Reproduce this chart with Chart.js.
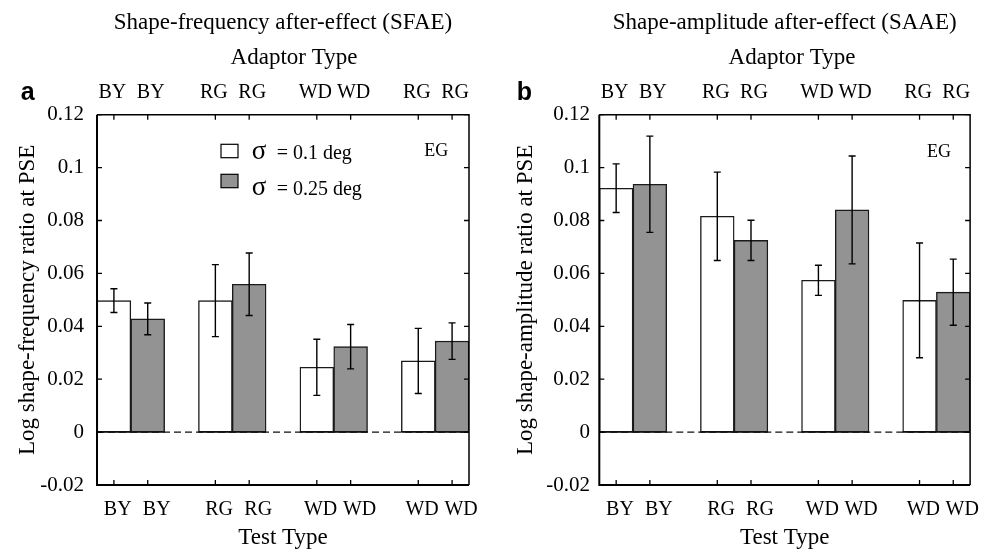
<!DOCTYPE html>
<html><head><meta charset="utf-8">
<script src="https://cdn.jsdelivr.net/npm/chart.js@4/dist/chart.umd.min.js"></script>
<style>
html,body{margin:0;padding:0;background:#fff;overflow:hidden;}
#wrap{position:relative;width:983px;height:549px;background:#fff;}
canvas{position:absolute;top:0;}
</style></head><body>
<div id="wrap">
<canvas id="ca" width="491" height="549" style="left:0"></canvas>
<canvas id="cb" width="492" height="549" style="left:491px"></canvas>
</div>
<script>
// ---- data ----
const testTypes = ['BY', 'RG', 'WD', 'WD'];
const adaptorTypes = ['BY', 'RG', 'WD', 'RG'];
const seriesNames = ['σ = 0.1 deg', 'σ = 0.25 deg'];

// Panel a: shape-frequency after-effect
const sfaeNarrow    = [0.0497, 0.0497, 0.0245, 0.0269];
const sfaeNarrowErr = [0.0045, 0.0136, 0.0106, 0.0123];
const sfaeWide      = [0.0428, 0.0559, 0.0323, 0.0344];
const sfaeWideErr   = [0.0060, 0.0118, 0.0084, 0.0069];

// Panel b: shape-amplitude after-effect
const saaeNarrow    = [0.0922, 0.0816, 0.0574, 0.0498];
const saaeNarrowErr = [0.0092, 0.0167, 0.0057, 0.0217];
const saaeWide      = [0.0937, 0.0725, 0.0840, 0.0529];
const saaeWideErr   = [0.0182, 0.0076, 0.0204, 0.0125];

const yMin = -0.02, yMax = 0.12, yStep = 0.02;

// ---- build slot arrays (pair of bars per group, empty slot between groups) ----
function slotLabels(types) {
  const out = [];
  types.forEach((t, g) => { out.push(t, t); if (g < types.length - 1) out.push(''); });
  return out;
}
function slotValues(vals, pos) {
  const out = [];
  vals.forEach((v, g) => {
    out.push(pos === 0 ? v : null, pos === 1 ? v : null);
    if (g < vals.length - 1) out.push(null);
  });
  return out;
}

const SERIF = "'Liberation Serif', 'Times New Roman', serif";
const SANS = "'Liberation Sans', Arial, sans-serif";
Chart.defaults.color = '#000';
Chart.defaults.font.family = SERIF;

const decor = {
  id: 'decor',
  beforeDatasetsDraw(chart) {
    const {ctx, chartArea: a, scales: {y}} = chart;
    const y0 = y.getPixelForValue(0);
    ctx.save();
    ctx.strokeStyle = '#111'; ctx.lineWidth = 1.3; ctx.setLineDash([7, 4]);
    ctx.beginPath(); ctx.moveTo(a.left, y0); ctx.lineTo(a.right, y0); ctx.stroke();
    ctx.restore();
  },
  afterDatasetsDraw(chart, args, o) {
    const {ctx, chartArea: a, scales: {x, y}} = chart;
    const y0 = y.getPixelForValue(0);
    ctx.save();
    // solid base line under each bar
    ctx.strokeStyle = '#111'; ctx.lineWidth = 1.5;
    ctx.beginPath();
    chart.data.datasets.forEach((ds, i) => {
      const meta = chart.getDatasetMeta(i);
      ds.data.forEach((v, j) => {
        if (v == null) return;
        const el = meta.data[j];
        ctx.moveTo(el.x - el.width / 2, y0); ctx.lineTo(el.x + el.width / 2, y0);
      });
    });
    ctx.stroke();
    // error bars
    ctx.strokeStyle = '#000'; ctx.lineWidth = 1.4;
    chart.data.datasets.forEach((ds, i) => {
      const meta = chart.getDatasetMeta(i);
      ds.data.forEach((v, j) => {
        if (v == null) return;
        const e = ds.errors[j];
        const px = meta.data[j].x;
        const yt = y.getPixelForValue(v + e), yb = y.getPixelForValue(v - e);
        ctx.beginPath();
        ctx.moveTo(px, yt); ctx.lineTo(px, yb);
        ctx.moveTo(px - 3.5, yt); ctx.lineTo(px + 3.5, yt);
        ctx.moveTo(px - 3.5, yb); ctx.lineTo(px + 3.5, yb);
        ctx.stroke();
      });
    });
    // frame
    ctx.strokeStyle = '#000';
    ctx.lineWidth = 1.5;
    ctx.beginPath();
    ctx.moveTo(a.left, a.top); ctx.lineTo(a.right, a.top); ctx.lineTo(a.right, a.bottom);
    ctx.stroke();
    ctx.lineWidth = 2;
    ctx.beginPath();
    ctx.moveTo(a.left, a.top); ctx.lineTo(a.left, a.bottom); ctx.lineTo(a.right, a.bottom);
    ctx.stroke();
    // inward ticks
    ctx.lineWidth = 1.3;
    const tl = 5;
    ctx.beginPath();
    y.ticks.forEach(t => {
      const py = y.getPixelForValue(t.value);
      ctx.moveTo(a.left, py); ctx.lineTo(a.left + tl, py);
      ctx.moveTo(a.right, py); ctx.lineTo(a.right - tl, py);
    });
    chart.data.labels.forEach((l, j) => {
      if (!l) return;
      const px = x.getPixelForTick(j);
      ctx.moveTo(px, a.top); ctx.lineTo(px, a.top + tl);
      ctx.moveTo(px, a.bottom); ctx.lineTo(px, a.bottom - tl);
    });
    ctx.stroke();

    // texts
    ctx.fillStyle = '#000';
    ctx.font = '23px ' + SERIF;
    ctx.textAlign = 'center'; ctx.textBaseline = 'middle';
    ctx.fillText(o.topTitle, o.topTitleX, o.topTitleY);
    ctx.font = 'bold 25px ' + SANS;
    ctx.textAlign = 'left'; ctx.textBaseline = 'alphabetic';
    ctx.fillText(o.letter, o.letterX, 100);
    ctx.font = '18px ' + SERIF;
    ctx.textAlign = 'right'; ctx.textBaseline = 'alphabetic';
    ctx.fillText(o.subject, a.right - o.egDx, a.top + o.egDy);
    if (o.legend) {
      chart.data.datasets.forEach((ds, i) => {
        const bx = a.left + 124, by = a.top + 29.6 + i * 30;
        ctx.fillStyle = ds.backgroundColor;
        ctx.fillRect(bx, by, 17, 13.4);
        ctx.strokeStyle = '#000'; ctx.lineWidth = 1.2;
        ctx.strokeRect(bx, by, 17, 13.4);
        const base = a.top + 44.6 + i * 35.2;
        const sp = ds.label.indexOf(' ');
        const sym = ds.label.slice(0, sp), rest = ds.label.slice(sp + 1);
        ctx.fillStyle = '#000';
        ctx.textAlign = 'left';
        ctx.font = '27px ' + SERIF;
        ctx.fillText(sym, a.left + 154.7, base);
        ctx.font = '20px ' + SERIF;
        ctx.fillText(rest, a.left + 179.7, base);
      });
    }
    ctx.restore();
  }
};

const TICKFONT = { size: 20, family: SERIF };
function firstOfPair(v, i) { return i % 3 === 0 ? this.getLabelForValue(v) : ''; }
function secondOfPair(v, i) { return i % 3 === 1 ? this.getLabelForValue(v) : ''; }

function labelAxis(labels, position, cb, offset, padding) {
  return {
    type: 'category', position, offset: true, labels,
    grid: { display: false, drawTicks: false }, border: { display: false },
    ticks: { font: TICKFONT, padding, labelOffset: offset, maxRotation: 0, autoSkip: false,
             color: '#000', callback: cb }
  };
}

function makeChart(id, cfg) {
  const labelsBottom = slotLabels(testTypes);
  const labelsTop = slotLabels(adaptorTypes);
  const xMain = labelAxis(labelsBottom, 'bottom', firstOfPair, 3.8, 12.5);
  xMain.title = { display: true, text: 'Test Type', font: { size: 23, family: SERIF }, padding: { top: 0, bottom: -3 }, color: '#000' };
  xMain.afterFit = s => { s.height = 64; };
  const xBottom2 = labelAxis(labelsBottom, { y: yMin }, secondOfPair, 9, 12.5);
  const xTop = labelAxis(labelsTop, 'top', firstOfPair, -1.5, 9.5);
  xTop.afterFit = s => { s.height = 77.9; };
  const xTop2 = labelAxis(labelsTop, { y: yMax }, secondOfPair, 3, -34);
  return new Chart(document.getElementById(id), {
    type: 'bar',
    data: {
      labels: labelsBottom,
      datasets: [
        { label: seriesNames[0], data: slotValues(cfg.narrow, 0), errors: slotValues(cfg.narrowErr, 0),
          backgroundColor: '#ffffff', borderColor: '#1a1a1a', borderWidth: 1.4, borderSkipped: false },
        { label: seriesNames[1], data: slotValues(cfg.wide, 1), errors: slotValues(cfg.wideErr, 1),
          backgroundColor: '#939393', borderColor: '#1a1a1a', borderWidth: 1.4, borderSkipped: false }
      ]
    },
    options: {
      responsive: false, animation: false, devicePixelRatio: 1,
      datasets: { bar: { grouped: false, barPercentage: 1, categoryPercentage: 1 } },
      layout: { padding: { left: 0, right: cfg.padRight, top: 0, bottom: 0 } },
      plugins: {
        legend: { display: false },
        tooltip: { enabled: false },
        title: { display: true, text: cfg.title, fullSize: false,
                 font: { size: 23, family: SERIF, weight: 'normal' }, color: '#000',
                 padding: { top: 9.2, bottom: 0 } },
        decor: cfg.decor
      },
      scales: {
        x: xMain,
        xb2: xBottom2,
        x2: xTop,
        xt2: xTop2,
        y: {
          min: yMin, max: yMax,
          grid: { display: false, drawTicks: false }, border: { display: false },
          ticks: { stepSize: yStep, font: { size: 21, family: SERIF }, padding: cfg.tickPad, color: '#000',
                   callback: v => String(+(+v).toFixed(2)) },
          title: { display: true, text: cfg.yTitle, font: { size: 23, family: SERIF }, padding: { top: cfg.yTitlePad, bottom: 0 }, color: '#000' },
          afterFit: s => { s.width = cfg.yWidth; }
        }
      }
    },
    plugins: [decor]
  });
}

makeChart('ca', {
  title: 'Shape-frequency after-effect (SFAE)',
  yTitle: 'Log shape-frequency ratio at PSE',
  narrow: sfaeNarrow, narrowErr: sfaeNarrowErr, wide: sfaeWide, wideErr: sfaeWideErr,
  padRight: 22, yWidth: 97, tickPad: 13, yTitlePad: 13.7,
  decor: { topTitle: 'Adaptor Type', topTitleX: 294, topTitleY: 58, letter: 'a', letterX: 20.7,
           subject: 'EG', egDx: 20.7, egDy: 41, legend: true }
});
makeChart('cb', {
  title: 'Shape-amplitude after-effect (SAAE)',
  yTitle: 'Log shape-amplitude ratio at PSE',
  narrow: saaeNarrow, narrowErr: saaeNarrowErr, wide: saaeWide, wideErr: saaeWideErr,
  padRight: 11.3, yWidth: 108.3, tickPad: 9.3, yTitlePad: 21,
  decor: { topTitle: 'Adaptor Type', topTitleX: 301, topTitleY: 58, letter: 'b', letterX: 25.7,
           subject: 'EG', egDx: 19, egDy: 42.6, legend: false }
});
</script>
</body></html>
